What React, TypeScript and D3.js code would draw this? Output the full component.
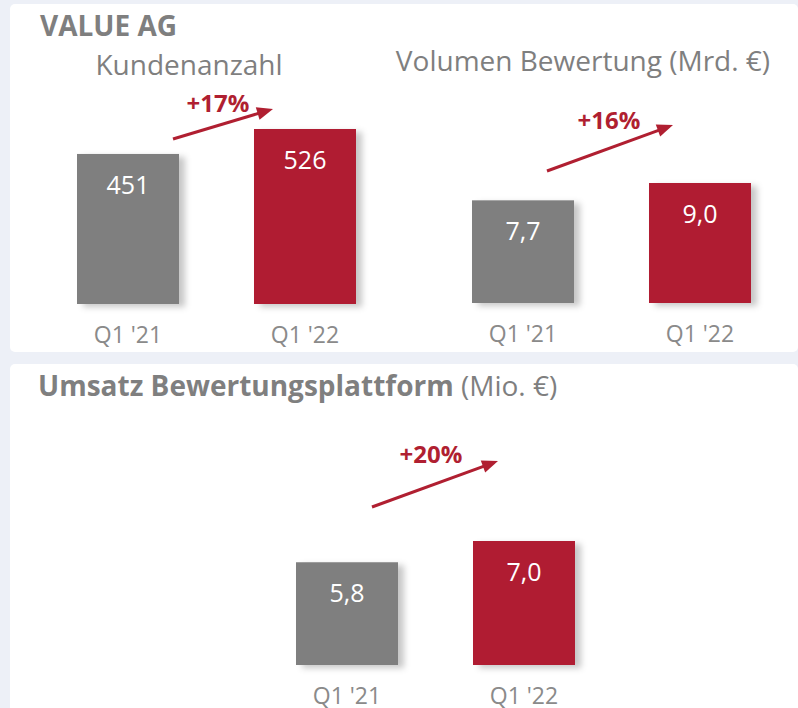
import React from "react";
import * as d3 from "d3";

const categories = ["Q1 '21", "Q1 '22"];
const kundenValues = [451, 526];
const volumenValues = [7.7, 9.0];
const umsatzValues = [5.8, 7.0];
const growthLabels = ["+17%", "+16%", "+20%"];

const W = 798;
const H = 708;
const GRAY = "#7f7f7f";
const RED = "#b01f31";
const LABEL_GRAY = "#8a8a8a";
const BG = "#edf0f7";
const FONT = "'Open Sans', 'Noto Sans', sans-serif";

const fmt = (v: number, dec: number) =>
  dec === 0 ? String(v) : v.toFixed(dec).replace(".", ",");

type ChartCfg = {
  values: number[];
  dec: number;
  x0: number;
  x1: number;
  base: number;
  top: number;
  growth: string;
  arrow: [number, number, number, number];
  gx: number;
  gy: number;
};

const charts: ChartCfg[] = [
  { values: kundenValues, dec: 0, x0: 77, x1: 356, base: 304, top: 129, growth: growthLabels[0], arrow: [173, 139, 273, 109], gx: 218, gy: 112 },
  { values: volumenValues, dec: 1, x0: 472, x1: 751, base: 303, top: 183, growth: growthLabels[1], arrow: [547, 171, 673, 125], gx: 609, gy: 129 },
  { values: umsatzValues, dec: 1, x0: 296, x1: 575, base: 665, top: 541, growth: growthLabels[2], arrow: [372, 507, 498, 461], gx: 431, gy: 463 },
];

function Arrow({ a }: { a: [number, number, number, number] }) {
  const [x1, y1, x2, y2] = a;
  const ang = Math.atan2(y2 - y1, x2 - x1);
  const len = 16;
  const half = 6.5;
  const bx = x2 - len * Math.cos(ang);
  const by = y2 - len * Math.sin(ang);
  const px = -Math.sin(ang);
  const py = Math.cos(ang);
  const pts = [
    [x2, y2],
    [bx + px * half, by + py * half],
    [bx - px * half, by - py * half],
  ];
  return (
    <g>
      <line x1={x1} y1={y1} x2={bx + 2 * Math.cos(ang)} y2={by + 2 * Math.sin(ang)} stroke={RED} strokeWidth={3} />
      <polygon points={pts.map((p) => p.join(",")).join(" ")} fill={RED} />
    </g>
  );
}

function BarChart({ c }: { c: ChartCfg }) {
  const x = d3.scaleBand<string>().domain(categories).range([c.x0, c.x1]).paddingInner(0.4237).paddingOuter(0);
  const maxV = d3.max(c.values) as number;
  const y = d3.scaleLinear().domain([0, maxV]).range([c.base, c.top]);
  const bw = x.bandwidth();
  return (
    <g>
      {categories.map((cat, i) => {
        const v = c.values[i];
        const bx = x(cat) as number;
        const by = y(v);
        return (
          <g key={cat}>
            <rect x={bx} y={by} width={bw} height={y(0) - by} fill={i === 0 ? GRAY : RED} filter="url(#shadow)" />
            <text x={bx + bw / 2} y={by + 40} textAnchor="middle" fill="#ffffff" fontSize={25} fontFamily={FONT}>
              {fmt(v, c.dec)}
            </text>
            <text x={bx + bw / 2} y={y(0) + 39} textAnchor="middle" fill={LABEL_GRAY} fontSize={23} fontFamily={FONT}>
              {cat}
            </text>
          </g>
        );
      })}
      <text x={c.gx} y={c.gy} textAnchor="middle" fill={RED} fontSize={24} fontWeight={700} fontFamily={FONT}>
        {c.growth}
      </text>
      <Arrow a={c.arrow} />
    </g>
  );
}

export default function App() {
  return (
    <svg width={W} height={H} style={{ position: "absolute", left: 0, top: 0, display: "block" }}>
      <defs>
        <filter id="shadow" x="-20%" y="-20%" width="150%" height="150%">
          <feDropShadow dx={6} dy={3} stdDeviation={3} floodColor="#000" floodOpacity={0.22} />
        </filter>
      </defs>
      <rect x={0} y={0} width={W} height={H} fill={BG} />
      <rect x={10} y={4} width={W - 10} height={348} rx={5} fill="#ffffff" />
      <rect x={10} y={364} width={W - 10} height={H - 364 + 10} rx={5} fill="#ffffff" />

      <text x={40} y={36} fill={GRAY} fontSize={28} fontWeight={700} fontFamily={FONT}>VALUE AG</text>
      <text x={189} y={75} textAnchor="middle" fill={GRAY} fontSize={28} fontFamily={FONT}>Kundenanzahl</text>
      <text x={583} y={71} textAnchor="middle" fill={GRAY} fontSize={28} fontFamily={FONT}>Volumen Bewertung (Mrd. €)</text>
      <text x={38} y={396} fill={GRAY} fontSize={28} fontFamily={FONT}>
        <tspan fontWeight={700}>Umsatz Bewertungsplattform</tspan>
        <tspan> (Mio. €)</tspan>
      </text>

      {charts.map((c, i) => (
        <BarChart key={i} c={c} />
      ))}
    </svg>
  );
}
